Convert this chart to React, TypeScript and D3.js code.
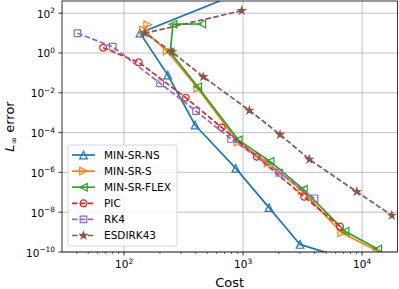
import React, { useEffect, useRef } from 'react';
import * as d3 from 'd3';

// values (cost, L-inf error)
const costNS = [4500, 136, 233, 395, 869, 1652, 3013, 7000];
const errNS = [4.5e4, 10.1, 0.078, 2.4e-4, 1.6e-6, 1.7e-8, 2.4e-10, 5e-11];

const costS = [158, 146, 230, 416, 905, 1622, 3133, 6745, 13300];
const errS = [26.5, 14.3, 1.26, 0.017, 3.4e-5, 3.0e-6, 1.2e-7, 9.3e-10, 1.2e-10];

const costFLEX = [450, 258, 244, 416, 912, 1687, 3214, 7194, 13540];
const errFLEX = [28.6, 28, 1.12, 0.02, 4.3e-5, 3.6e-6, 1.4e-7, 1.1e-9, 1.4e-10];

const costPIC = [66.7, 133, 330, 662, 1303, 3260, 6530];
const errPIC = [1.85, 0.34, 5.7e-3, 1.8e-4, 6.2e-6, 6e-8, 1.9e-9];

const costRK4 = [40.6, 80.4, 201, 403, 792, 2018, 3980];
const errRK4 = [9.8, 2.07, 0.03, 1.2e-3, 4.8e-5, 9.6e-7, 5e-8];

const costESDIRK = [975, 150, 252, 463, 1130, 2046, 3606, 9020, 17780];
const errESDIRK = [134, 9.8, 1.16, 0.064, 1.3e-3, 8e-5, 4.5e-6, 1.07e-7, 6.9e-9];

const xTicks = [100, 1000, 10000];
const yTicks = [1e2, 1, 1e-2, 1e-4, 1e-6, 1e-8, 1e-10];

interface Series {
  name: string;
  cost: number[];
  err: number[];
  color: string;
  marker: string;
  dashed: boolean;
}

const series: Series[] = [
  { name: 'MIN-SR-NS', cost: costNS, err: errNS, color: '#1f77b4', marker: 'tri-up', dashed: false },
  { name: 'MIN-SR-S', cost: costS, err: errS, color: '#ff7f0e', marker: 'tri-right', dashed: false },
  { name: 'MIN-SR-FLEX', cost: costFLEX, err: errFLEX, color: '#2ca02c', marker: 'tri-left', dashed: false },
  { name: 'PIC', cost: costPIC, err: errPIC, color: '#d62728', marker: 'circle', dashed: true },
  { name: 'RK4', cost: costRK4, err: errRK4, color: '#9467bd', marker: 'square', dashed: true },
  { name: 'ESDIRK43', cost: costESDIRK, err: errESDIRK, color: '#8c564b', marker: 'star', dashed: true },
];

const markerPath = (kind: string): string => {
  const r = 3.8;
  if (kind === 'tri-up') return `M0,${-r}L${-r},${r}L${r},${r}Z`;
  if (kind === 'tri-right') return `M${r},0L${-r},${-r}L${-r},${r}Z`;
  if (kind === 'tri-left') return `M${-r},0L${r},${-r}L${r},${r}Z`;
  if (kind === 'square') return `M-3.3,-3.3H3.3V3.3H-3.3Z`;
  if (kind === 'circle') return d3.symbol(d3.symbolCircle, Math.PI * 3.4 * 3.4)()!;
  return d3.symbol(d3.symbolStar, 15)()!;
};

const App: React.FC = () => {
  const chartRef = useRef<HTMLDivElement>(null);

  useEffect(() => {
    const width = 399;
    const height = 289;
    const margin = { top: 1, right: 1.5, bottom: 37, left: 62 };
    const font = 'DejaVu Sans, sans-serif';

    d3.select(chartRef.current!).selectAll('*').remove();

    const svg = d3
      .select(chartRef.current!)
      .append('svg')
      .attr('width', width)
      .attr('height', height)
      .style('display', 'block')
      .style('font-family', font);

    svg.append('rect').attr('width', width).attr('height', height).attr('fill', '#fff');

    const x = d3
      .scaleLog()
      .domain([30.1, 19850])
      .range([margin.left, width - margin.right]);
    const y = d3
      .scaleLog()
      .domain([1e-10, 410])
      .range([height - margin.bottom, margin.top]);

    const [x0, x1] = x.range();
    const [y1, y0] = y.range();

    svg
      .append('clipPath')
      .attr('id', 'plot-clip')
      .append('rect')
      .attr('x', x0)
      .attr('y', y0)
      .attr('width', x1 - x0)
      .attr('height', y1 - y0);

    // grid
    const grid = svg.append('g').attr('stroke', '#b0b0b0').attr('stroke-width', 0.8);
    xTicks.forEach((t) => {
      grid.append('line').attr('x1', x(t)).attr('x2', x(t)).attr('y1', y0).attr('y2', y1);
    });
    yTicks.forEach((t) => {
      grid.append('line').attr('x1', x0).attr('x2', x1).attr('y1', y(t)).attr('y2', y(t));
    });

    // series
    const plot = svg.append('g').attr('clip-path', 'url(#plot-clip)');
    series.forEach((s) => {
      const pts = s.cost.map((c, i) => [c, s.err[i]] as [number, number]);
      const line = d3
        .line<[number, number]>()
        .x((d) => x(d[0]))
        .y((d) => y(d[1]));
      plot
        .append('path')
        .attr('d', line(pts))
        .attr('fill', 'none')
        .attr('stroke', s.color)
        .attr('stroke-width', 1.7)
        .attr('stroke-dasharray', s.dashed ? '5.5,2.4' : null);
      plot
        .selectAll(null)
        .data(pts)
        .enter()
        .append('path')
        .attr('transform', (d) => `translate(${x(d[0])},${y(d[1])})`)
        .attr('d', markerPath(s.marker))
        .attr('fill', s.marker === 'star' ? s.color : 'none')
        .attr('stroke', s.color)
        .attr('stroke-width', 1.2);
    });

    // spines
    svg
      .append('rect')
      .attr('x', x0)
      .attr('y', y0)
      .attr('width', x1 - x0)
      .attr('height', y1 - y0)
      .attr('fill', 'none')
      .attr('stroke', '#000')
      .attr('stroke-width', 0.8);

    // x ticks
    const xt = svg.append('g');
    xTicks.forEach((t) => {
      xt.append('line').attr('x1', x(t)).attr('x2', x(t)).attr('y1', y1).attr('y2', y1 + 3.5).attr('stroke', '#000').attr('stroke-width', 0.8);
      const txt = xt
        .append('text')
        .attr('x', x(t))
        .attr('y', y1 + 16)
        .attr('text-anchor', 'middle')
        .attr('font-size', 10.5);
      txt.append('tspan').text('10');
      txt.append('tspan').attr('dy', -4.5).attr('font-size', 7.4).text(String(Math.round(Math.log10(t))));
    });
    x.ticks()
      .filter((t) => !xTicks.includes(t) && t >= 30.1 && t <= 19850)
      .forEach((t) => {
        xt.append('line').attr('x1', x(t)).attr('x2', x(t)).attr('y1', y1).attr('y2', y1 + 2).attr('stroke', '#000').attr('stroke-width', 0.6);
      });

    // y ticks
    const yt = svg.append('g');
    yTicks.forEach((t) => {
      yt.append('line').attr('x1', x0 - 3.5).attr('x2', x0).attr('y1', y(t)).attr('y2', y(t)).attr('stroke', '#000').attr('stroke-width', 0.8);
      const e = Math.round(Math.log10(t));
      const txt = yt
        .append('text')
        .attr('x', x0 - 7)
        .attr('y', y(t) + 4.5)
        .attr('text-anchor', 'end')
        .attr('font-size', 10.5);
      txt.append('tspan').text('10');
      txt.append('tspan').attr('dy', -4.5).attr('font-size', 7.4).text(e < 0 ? `\u2212${-e}` : String(e));
    });

    // axis labels
    svg
      .append('text')
      .attr('x', (x0 + x1) / 2)
      .attr('y', 287)
      .attr('text-anchor', 'middle')
      .attr('font-size', 13)
      .text('Cost');

    const yl = svg
      .append('text')
      .attr('transform', `translate(14,${(y0 + y1) / 2}) rotate(-90)`)
      .attr('text-anchor', 'middle')
      .attr('font-size', 13);
    yl.append('tspan').attr('font-style', 'italic').text('L');
    yl.append('tspan').attr('dy', 3).attr('font-size', 9).text('\u221e');
    yl.append('tspan').attr('dy', -3).text(' error');

    // legend
    const lg = svg.append('g').attr('transform', 'translate(68,145)');
    lg.append('rect')
      .attr('width', 109)
      .attr('height', 101)
      .attr('rx', 2.5)
      .attr('fill', '#fff')
      .attr('fill-opacity', 0.8)
      .attr('stroke', '#cccccc')
      .attr('stroke-width', 0.8);
    series.forEach((s, i) => {
      const cy = 10 + i * 16.1;
      lg.append('line')
        .attr('x1', 4)
        .attr('x2', 27)
        .attr('y1', cy)
        .attr('y2', cy)
        .attr('stroke', s.color)
        .attr('stroke-width', 1.7)
        .attr('stroke-dasharray', s.dashed ? '5.5,2.4' : null);
      lg.append('path')
        .attr('transform', `translate(15.5,${cy})`)
        .attr('d', markerPath(s.marker))
        .attr('fill', s.marker === 'star' ? s.color : 'none')
        .attr('stroke', s.color)
        .attr('stroke-width', 1.2);
      lg.append('text')
        .attr('x', 36)
        .attr('y', cy + 3.8)
        .attr('font-size', 10.5)
        .text(s.name);
    });
  }, []);

  return <div ref={chartRef} style={{ position: 'absolute', left: 0, top: 0, width: 399, height: 289 }} />;
};

export default App;
